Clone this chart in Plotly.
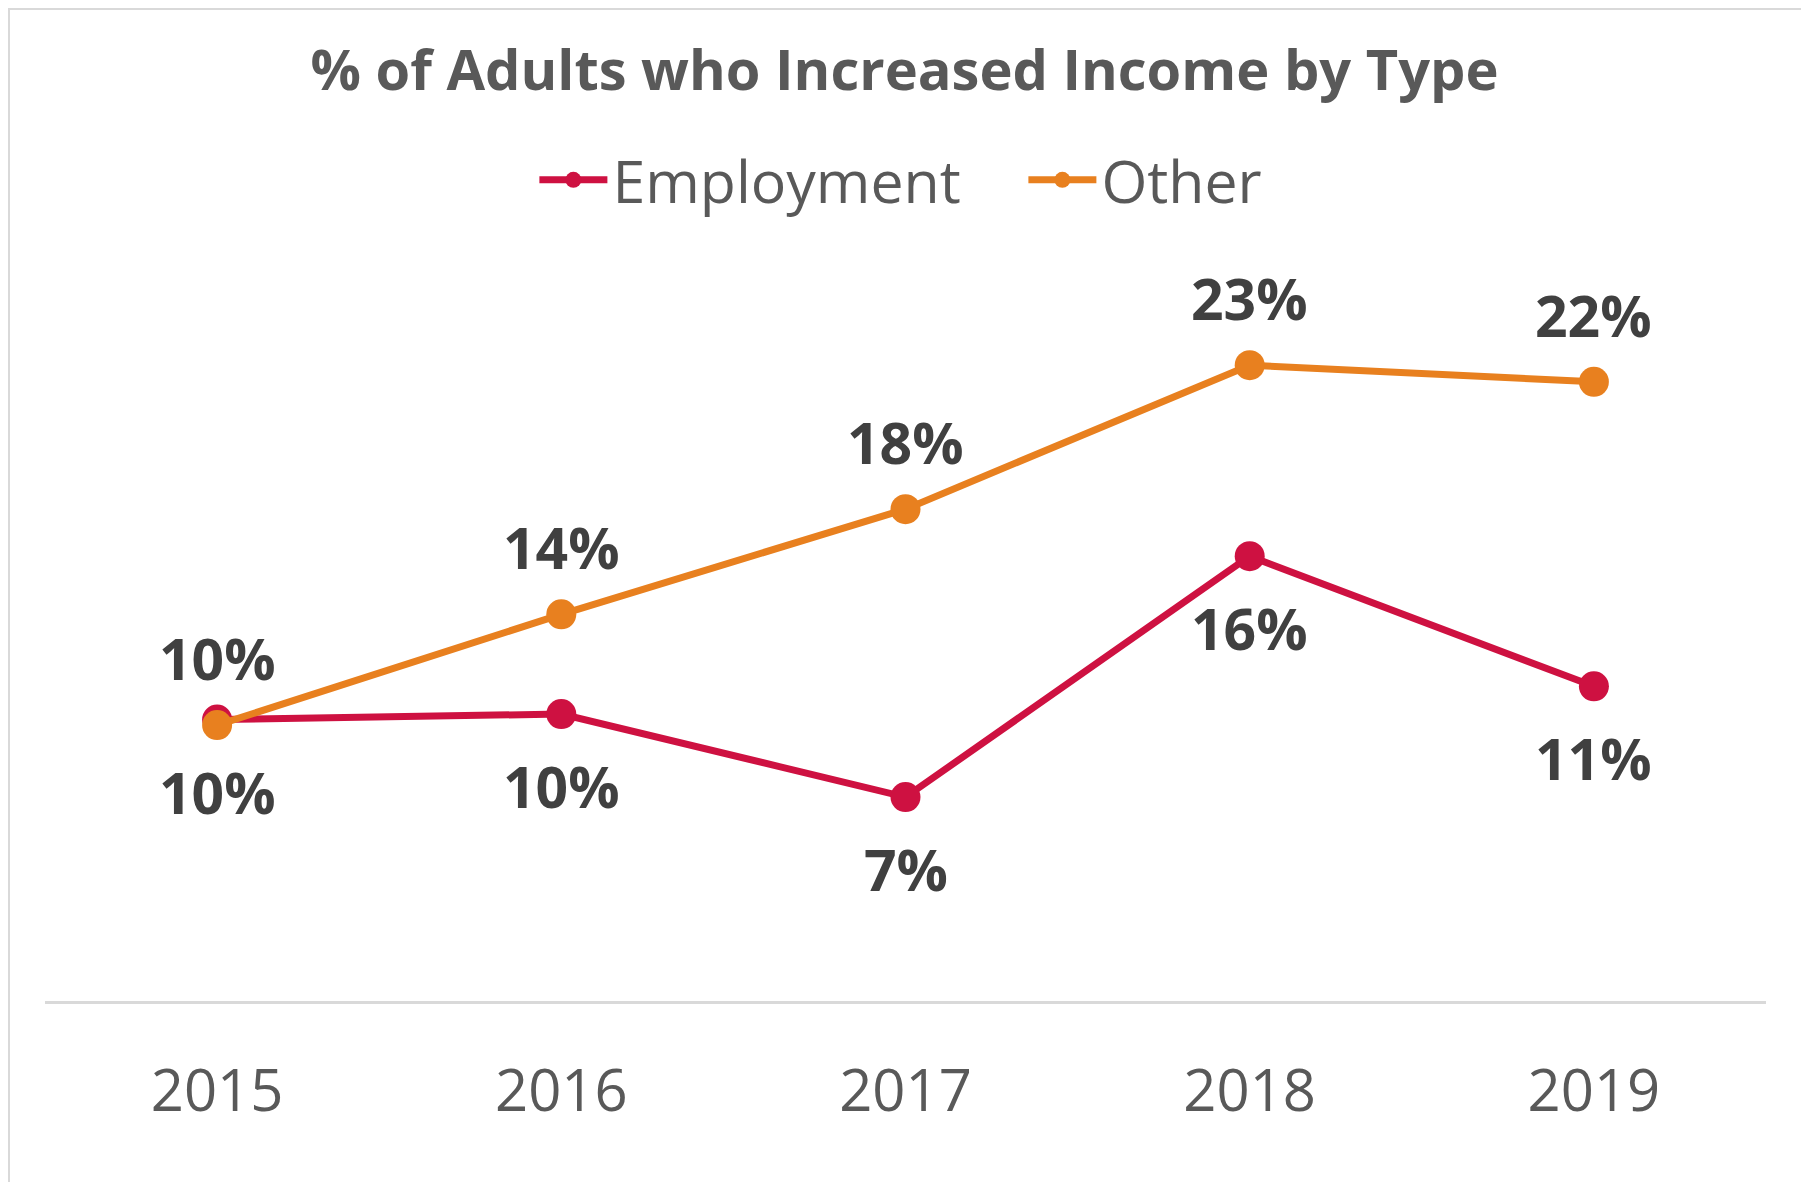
import plotly.graph_objects as go

years = ["2015", "2016", "2017", "2018", "2019"]
employment = [10.2, 10.4, 7.4, 16.1, 11.4]
other = [10.0, 14.0, 17.8, 23.0, 22.4]

EMP_COLOR = "#CE1141"
OTH_COLOR = "#E8801F"
LABEL_COLOR = "#404040"
TEXT_COLOR = "#595959"
BORDER = "#D9D9D9"
FONT = "Open Sans"

W, H = 1809, 1182
ML, MR, MT, MB = 37, 51, 250, 188
PW, PH = W - ML - MR, H - MT - MB

fig = go.Figure()
fig.add_trace(go.Scatter(
    x=years, y=employment, name="Employment", mode="lines+markers",
    line=dict(color=EMP_COLOR, width=7), marker=dict(size=30, color=EMP_COLOR),
))
fig.add_trace(go.Scatter(
    x=years, y=other, name="Other", mode="lines+markers",
    line=dict(color=OTH_COLOR, width=7), marker=dict(size=30, color=OTH_COLOR),
))

for i, v in enumerate(other):
    fig.add_annotation(x=i, y=v, xref="x", yref="y", text="<b>%d%%</b>" % round(v),
                       showarrow=False, yshift=67, yanchor="middle",
                       font=dict(family=FONT, size=57, color=LABEL_COLOR))
for i, v in enumerate(employment):
    fig.add_annotation(x=i, y=v, xref="x", yref="y", text="<b>%d%%</b>" % round(v),
                       showarrow=False, yshift=-72, yanchor="middle",
                       font=dict(family=FONT, size=57, color=LABEL_COLOR))

# light frame around the chart (top, left, bottom)
def px_x(p):
    return (p - ML) / PW

def px_y(p):
    return (H - MB - p) / PH

fig.add_shape(type="line", xref="paper", yref="paper", x0=px_x(0), x1=px_x(W),
              y0=px_y(1), y1=px_y(1), line=dict(color=BORDER, width=2))
fig.add_shape(type="line", xref="paper", yref="paper", x0=px_x(1), x1=px_x(1),
              y0=px_y(0), y1=px_y(H), line=dict(color=BORDER, width=2))
fig.add_shape(type="line", xref="paper", yref="paper", x0=px_x(0), x1=px_x(W),
              y0=px_y(H - 1.5), y1=px_y(H - 1.5), line=dict(color=BORDER, width=3))

fig.update_layout(
    width=W, height=H,
    margin=dict(l=ML, r=MR, t=MT, b=MB),
    paper_bgcolor="white", plot_bgcolor="white",
    title=dict(text="<b>% of Adults who Increased Income by Type</b>",
               x=0.4956, xanchor="center", y=1 - 62 / H, yanchor="middle", yref="container",
               font=dict(family=FONT, size=56, color=TEXT_COLOR)),
    legend=dict(orientation="h", x=0.5685, xanchor="center", y=1 - 172 / H, yanchor="middle",
                yref="container", font=dict(family=FONT, size=59, color=TEXT_COLOR),
                itemwidth=68, entrywidth=406, traceorder="normal"),
    xaxis=dict(type="category", range=[-0.5, 4.5], showgrid=False, zeroline=False,
               showline=False, ticks="", ticklabelstandoff=50,
               tickfont=dict(family=FONT, size=58, color=TEXT_COLOR)),
    yaxis=dict(range=[0, 26.87], showgrid=False, zeroline=True, zerolinecolor=BORDER,
               zerolinewidth=3, showticklabels=False, ticks=""),
    showlegend=True,
)

fig.write_html("out.html")
